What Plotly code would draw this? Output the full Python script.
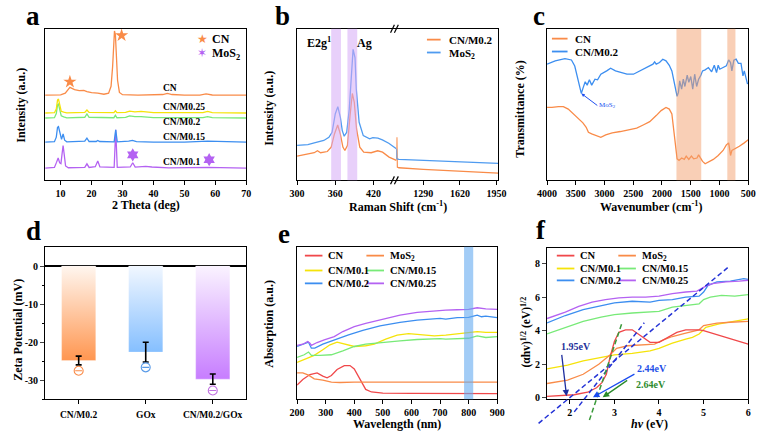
import plotly.graph_objects as go

W, H = 764, 435
SERIF = "Liberation Serif"

ORANGE = "#F98B48"
YELLOW = "#F5E30A"
GREEN = "#78EA78"
BLUE = "#3C8EF0"
PURPLE = "#B462F2"
RED = "#F0484A"

# ---------------- (a) XRD ----------------
a_cn_x = [5, 10, 11.5, 12.5, 13, 13.5, 14.5, 16, 17.5, 18.5, 20, 22, 24, 25.5, 26.3, 26.8, 27.1, 27.4, 27.7, 28.0, 28.4, 29, 30, 35, 40, 43, 44.5, 46, 50, 55, 57, 59, 65, 70]
a_cn_y = [56.2, 56.4, 57.5, 60.5, 61.3, 60.8, 59.8, 59.2, 59.3, 58.5, 57.8, 57.5, 56.8, 57.5, 62, 75, 90, 98.5, 96, 82, 66, 58, 56.5, 56.2, 56.2, 56.6, 57.3, 56.6, 56.2, 56.2, 57, 56.3, 56.2, 56.2]
a_m025_x = [5, 8, 8.6, 9.0, 9.3, 9.7, 10.2, 11, 12, 17.8, 18.5, 19.2, 22, 27.2, 27.7, 28.2, 31, 32.3, 34, 36, 40, 50, 56, 57.5, 59, 70]
a_m025_y = [44.4, 44.6, 47, 53, 53.6, 50, 45.5, 45, 44.5, 44.8, 46.4, 44.8, 44.6, 44.6, 45.9, 44.6, 44.8, 45.7, 45.2, 45.5, 44.6, 44.4, 44.6, 45.5, 44.6, 44.4]
a_m02_x = [5, 8, 8.6, 9.0, 9.3, 9.7, 10.2, 11, 12, 17.8, 18.5, 19.2, 22, 27.2, 27.7, 28.2, 31, 32.3, 34, 36, 40, 50, 56, 57.5, 59, 70]
a_m02_y = [41.1, 41.3, 44, 49.8, 50.3, 47, 42.5, 41.8, 41.2, 41.6, 43.8, 41.6, 41.4, 41.3, 42.9, 41.3, 41.5, 42.5, 42.0, 42.0, 41.3, 41.1, 41.3, 42.0, 41.3, 41.1]
a_m015_x = [5, 8, 8.6, 9.0, 9.3, 9.8, 10.3, 10.8, 11.3, 12, 17.8, 18.5, 19.2, 21.5, 22, 22.6, 27.3, 27.8, 28.3, 32, 33.2, 34.5, 40, 50, 57.5, 70]
a_m015_y = [25.2, 25.5, 28.5, 35, 35.4, 30, 27, 30.6, 26.5, 25.4, 25.8, 27.8, 25.6, 25.6, 26.3, 25.6, 25.4, 33.3, 25.4, 25.8, 26.3, 25.5, 25.2, 25.2, 25.8, 25.2]
a_m01_x = [5, 8, 8.7, 9.2, 9.7, 10.1, 10.5, 10.8, 11.1, 11.6, 12.5, 17.8, 18.5, 19.2, 21.2, 22, 22.7, 27.3, 27.8, 28.3, 32.5, 33.3, 34.1, 37.5, 39.5, 45, 57.5, 58.5, 70]
a_m01_y = [8.1, 8.5, 12, 14.7, 11.5, 11, 18, 23, 18, 9.5, 8.3, 8.5, 10.9, 8.5, 9, 12.7, 8.8, 8.5, 33.3, 8.5, 8.8, 11.6, 8.7, 9.2, 8.8, 8.2, 8.6, 8.6, 8.1]
a_cn_star_x = [13, 29.7]
a_cn_star_y = [65, 95.6]
a_mos2_star_x = [33.3, 58]
a_mos2_star_y = [16.8, 13.6]
a_labels = ["CN", "CN/M0.25", "CN/M0.2", "CN/M0.15", "CN/M0.1"]

# ---------------- (b) Raman ----------------
b_mos2_left_x = [300, 317, 327, 342, 350, 355, 360, 364, 368, 371, 374, 378, 382, 386, 388, 391, 393, 397.5, 404, 414, 419, 427, 434, 444, 452, 456]
b_mos2_left_y = [23.0, 23.6, 24.7, 26.3, 28.4, 31.7, 43.8, 48.6, 41.6, 32.8, 29.1, 31.7, 47.0, 75.5, 86.4, 81.0, 60.2, 38.3, 29.5, 27.4, 28.2, 27.8, 26.7, 24.5, 22.3, 20.8]
b_mos2_right_x = [1048, 1050, 1070, 1290, 1569, 1803, 1965]
b_mos2_right_y = [20.8, 14.2, 13.8, 13.1, 12.5, 11.8, 11.2]
b_cn02_left_x = [300, 317, 327, 332, 337, 347.5, 353.6, 358.7, 363.8, 367.9, 372, 375.1, 379.1, 383.2, 386.8, 389.9, 393.4, 398.5, 404.7, 416.4, 426.6, 434.3, 444.5, 456]
b_cn02_left_y = [16.0, 17.3, 18.2, 19.5, 18.2, 19.0, 21.9, 30.6, 36.5, 30.6, 21.9, 19.7, 23.0, 42.7, 57.3, 51.4, 33.9, 21.9, 18.6, 18.2, 19.5, 18.6, 15.3, 13.1]
b_cn02_right_x = [1048, 1051, 1055, 1070, 1290, 1569, 1803, 1965]
b_cn02_right_y = [13.1, 28.4, 8.8, 8.3, 7.2, 6.1, 5.5, 4.8]
b_bands = [(353.6, 368.9), (379.1, 394.5)]

# ---------------- (c) FTIR ----------------
c_cn02_x = [4000, 3858, 3688, 3575, 3518, 3473, 3427, 3404, 3370, 3336, 3302, 3263, 3223, 3166, 3121, 3064, 2962, 2894, 2809, 2724,
            2610, 2497, 2384, 2270, 2157, 2128, 2100, 2043, 1986, 1930, 1873, 1828, 1794, 1760, 1737, 1714, 1692, 1658, 1629, 1601,
            1561, 1533, 1499, 1465, 1431, 1397, 1363, 1329, 1294, 1249, 1192, 1136, 1090, 1051, 1022, 994, 937, 880, 840, 807,
            784, 750, 710, 671, 625, 591, 568, 540, 512]
c_cn02_y = [76.6, 78.8, 80.3, 79.4, 75.4, 68.9, 61.3, 57.3, 61.3, 65.0, 62.8, 66.3, 62.8, 66.7, 66.3, 70.0, 72.2, 74.0, 72.2, 71.1,
            70.0, 70.0, 72.2, 74.4, 76.6, 78.1, 76.6, 77.7, 79.9, 78.8, 75.9, 72.2, 65.6, 60.2, 55.4, 58.0, 65.6, 60.2, 66.7, 61.9,
            69.4, 64.6, 68.5, 60.2, 70.0, 61.9, 66.7, 68.9, 72.2, 72.9, 74.4, 71.6, 75.9, 71.1, 75.9, 73.3, 74.4, 75.5, 79.4, 77.7,
            72.2, 79.2, 79.9, 77.2, 77.2, 68.9, 72.2, 67.8, 63.5]
c_cn_x = [4000, 3915, 3801, 3716, 3631, 3546, 3461, 3376, 3319, 3280, 3223, 3121, 3064, 2979, 2866, 2724, 2554, 2440, 2327, 2213,
          2100, 2015, 1930, 1873, 1828, 1788, 1760, 1737, 1703, 1658, 1612, 1578, 1533, 1488, 1448, 1391, 1363, 1329, 1294, 1249,
          1192, 1107, 1022, 937, 880, 840, 823, 807, 784, 727, 654, 568, 500]
c_cn_y = [48.1, 48.1, 48.6, 48.6, 47.0, 43.8, 40.5, 37.9, 35.0, 31.7, 30.6, 29.1, 28.4, 30.0, 31.3, 32.2, 33.5, 34.4, 36.5, 38.7,
          42.7, 46.0, 48.1, 47.0, 43.8, 31.7, 20.8, 14.2, 13.1, 14.7, 13.8, 16.0, 13.8, 16.0, 14.2, 14.7, 16.8, 14.2, 12.5, 10.9,
          12.0, 13.8, 16.4, 19.7, 23.4, 24.7, 20.8, 16.4, 19.7, 20.8, 22.5, 24.7, 26.7]
c_bands = [(1748, 1317), (863, 722)]
c_mos2_mark = (3404, 57.3)

# ---------------- (d) Zeta potential ----------------
d_cats = ["CN/M0.2", "GOx", "CN/M0.2/GOx"]
d_vals = [-24.8, -22.6, -29.7]
d_errs = [1.15, 2.6, 1.35]
d_minus_y = [-27.5, -26.6, -32.7]
d_ticks = [0, -10, -20, -30]

# ---------------- (e) UV-vis ----------------
e_cn_x = [200, 220, 245, 270, 290, 305, 320, 340, 365, 385, 400, 420, 440, 460, 500, 600, 700, 900]
e_cn_y = [9.3, 13, 16.2, 17.3, 15.2, 14.1, 15.6, 19.5, 22.1, 22.1, 19.9, 13, 6.5, 4.8, 4.1, 3.9, 3.7, 3.7]
e_mos2_x = [200, 220, 240, 260, 290, 320, 350, 400, 500, 600, 700, 900]
e_mos2_y = [17.3, 17.3, 15.8, 13.4, 12.6, 11.3, 11, 11.3, 11.3, 11.3, 11.5, 11.3]
e_m01_x = [200, 230, 260, 290, 315, 340, 370, 400, 440, 470, 510, 550, 590, 630, 680, 720, 760, 800, 830, 860, 900]
e_m01_y = [24.2, 26.4, 28.8, 32.5, 35.7, 37.4, 36.1, 34.6, 35.1, 36.1, 39.4, 42, 43.1, 42.4, 41.6, 42, 42.9, 43.7, 44.4, 43.9, 43.9]
e_m015_x = [200, 225, 240, 250, 280, 320, 360, 400, 440, 500, 560, 620, 700, 720, 760, 800, 830, 860, 900]
e_m015_y = [27.5, 29.2, 31, 28.8, 28.8, 29.2, 31.8, 34.6, 36.1, 37.4, 38.3, 39.2, 39.8, 39.4, 39.8, 40, 41.6, 40.5, 41.1]
e_m02_x = [200, 225, 240, 250, 262, 290, 330, 380, 430, 490, 560, 620, 700, 720, 760, 800, 830, 845, 860, 900]
e_m02_y = [34.6, 36.1, 37.4, 33.5, 33.5, 36.1, 39, 42.2, 45.2, 48.1, 50.4, 51.9, 53, 52.6, 53.5, 53.7, 55.2, 54.1, 54.5, 53.5]
e_m025_x = [200, 220, 237, 245, 250, 270, 295, 330, 360, 400, 440, 500, 560, 620, 680, 720, 760, 800, 830, 860, 900]
e_m025_y = [35.3, 36.1, 37.9, 36.8, 35.3, 37.2, 39, 41.1, 44.4, 47.6, 49.8, 52.6, 55.2, 56.9, 58, 58.4, 58.7, 58.9, 60, 59.3, 58.9]
e_band = (784, 816)

# ---------------- (f) Tauc plot ----------------
f_cn_x = [1.49, 2.1, 2.4, 2.6, 2.72, 2.82, 2.9, 3.0, 3.1, 3.25, 3.4, 3.6, 3.8, 4.0, 4.2, 4.4, 4.6, 4.9, 5.0, 5.5, 6.0]
f_cn_y = [0.08, 0.18, 0.33, 0.6, 0.9, 1.4, 2.4, 3.35, 3.9, 4.05, 4.05, 3.7, 3.3, 3.3, 3.6, 3.9, 4.05, 4.05, 4.0, 3.6, 3.2]
f_mos2_x = [1.49, 1.95, 2.3, 2.65, 2.9, 3.05, 3.3, 3.6, 3.9, 4.1, 4.3, 4.6, 4.9, 5.0, 5.3, 5.6, 6.0]
f_mos2_y = [0.85, 1.05, 1.4, 2.0, 2.55, 2.95, 3.1, 3.15, 3.2, 3.45, 3.65, 3.85, 4.05, 4.3, 4.45, 4.5, 4.55]
f_m01_x = [1.49, 1.95, 2.3, 2.7, 3.0, 3.4, 3.8, 4.0, 4.3, 4.6, 4.75, 4.9, 5.05, 5.35, 5.6, 6.0]
f_m01_y = [1.72, 1.95, 2.2, 2.4, 2.55, 2.65, 2.8, 2.95, 3.25, 3.5, 3.6, 3.8, 4.2, 4.4, 4.5, 4.7]
f_m015_x = [1.49, 1.95, 2.3, 2.7, 3.0, 3.4, 3.7, 4.0, 4.3, 4.6, 4.9, 5.0, 5.15, 5.4, 5.7, 6.0]
f_m015_y = [3.8, 4.25, 4.55, 4.8, 4.95, 5.05, 5.1, 5.15, 5.4, 5.5, 5.6, 5.85, 6.0, 6.1, 6.05, 6.15]
f_m02_x = [1.49, 1.9, 2.3, 2.7, 3.0, 3.4, 3.8, 4.0, 4.3, 4.6, 4.9, 5.0, 5.1, 5.3, 5.6, 5.9, 6.0]
f_m02_y = [4.46, 4.9, 5.25, 5.5, 5.65, 5.75, 5.7, 5.8, 5.85, 6.0, 6.05, 6.3, 6.7, 6.9, 6.95, 7.1, 7.05]
f_m025_x = [1.49, 1.9, 2.2, 2.5, 2.8, 3.1, 3.4, 3.7, 4.0, 4.3, 4.6, 4.85, 4.95, 5.05, 5.2, 5.5, 5.8, 6.0]
f_m025_y = [4.72, 5.1, 5.45, 5.7, 5.85, 5.95, 6.0, 6.0, 6.05, 6.2, 6.3, 6.35, 6.5, 6.65, 6.8, 6.9, 6.95, 7.0]
f_tan1_x = [1.30, 5.54]
f_tan1_y = [-1.52, 7.75]
f_tan2_x = [2.10, 3.67]
f_tan2_y = [-0.84, 4.47]
f_tan3_x = [2.44, 3.18]
f_tan3_y = [-1.33, 4.53]
f_gap_labels = ["1.95eV", "2.44eV", "2.64eV"]

# ====================================================================
def xdom(l, r):
    return [l / W, r / W]


def ydom(t, b):
    return [1 - b / H, 1 - t / H]


def px(xp, yp):
    return xp / W, 1 - yp / H


TICKFONT = dict(family=SERIF, size=10, color="black", weight="bold")


def xax(dom, rng, anchor, **kw):
    d = dict(domain=dom, range=rng, anchor=anchor, showline=True, linecolor="black", linewidth=1.3,
             mirror=True, showgrid=False, zeroline=False, ticks="outside", ticklen=4, tickwidth=1.2,
             tickcolor="black", tickfont=TICKFONT)
    d.update(kw)
    return d


def yax(dom, rng, anchor, **kw):
    d = dict(domain=dom, range=rng, anchor=anchor, showline=True, linecolor="black", linewidth=1.3,
             mirror=True, showgrid=False, zeroline=False, ticks="", showticklabels=False)
    d.update(kw)
    return d


def line(x, y, color, xa, ya, width=1.3, dash=None):
    return go.Scatter(x=x, y=y, mode="lines", line=dict(color=color, width=width, dash=dash),
                      xaxis=xa, yaxis=ya, showlegend=False, hoverinfo="skip")


fig = go.Figure()
annotations = []
shapes = []


def text(t, xp, yp, size, color="black", xanchor="center", angle=0, bold=True, family=SERIF):
    x, y = px(xp, yp)
    annotations.append(dict(text=t, x=x, y=y, xref="paper", yref="paper", showarrow=False,
                            xanchor=xanchor, yanchor="middle", textangle=angle,
                            font=dict(family=family, size=size, color=color,
                                      weight="bold" if bold else "normal")))


def arrow(tail, tip, color, width=1.3):
    x, y = px(*tip)
    annotations.append(dict(text="", x=x, y=y, xref="paper", yref="paper", showarrow=True,
                            ax=tail[0] - tip[0], ay=tail[1] - tip[1], axref="pixel", ayref="pixel",
                            arrowhead=2, arrowsize=1, arrowwidth=width, arrowcolor=color,
                            standoff=0, startstandoff=0))


def legline(x0, x1, yp, color):
    shapes.append(dict(type="line", xref="paper", yref="paper", x0=x0 / W, x1=x1 / W,
                       y0=1 - yp / H, y1=1 - yp / H, line=dict(color=color, width=1.8)))


# ---------------- panel a ----------------
for xs, ys, col in [(a_m01_x, a_m01_y, PURPLE), (a_m015_x, a_m015_y, BLUE), (a_m02_x, a_m02_y, GREEN),
                    (a_m025_x, a_m025_y, YELLOW), (a_cn_x, a_cn_y, ORANGE)]:
    fig.add_trace(line(xs, ys, col, "x", "y"))
fig.add_trace(go.Scatter(x=a_cn_star_x, y=a_cn_star_y, mode="markers", xaxis="x", yaxis="y",
                         marker=dict(symbol="star", size=10, color=ORANGE), showlegend=False))
fig.add_trace(go.Scatter(x=a_mos2_star_x, y=a_mos2_star_y, mode="markers", xaxis="x", yaxis="y",
                         marker=dict(symbol="hexagram", size=10, color=PURPLE), showlegend=False))
for lab, yp in zip(a_labels, [89, 108, 123, 138, 164]):
    text(lab, 155, yp, 9.5, xanchor="left")
text("★", 197, 39, 12, ORANGE, family="DejaVu Sans")
text("✶", 197, 53, 12, PURPLE, family="DejaVu Sans")
text("CN", 205, 39, 12, xanchor="left")
text("MoS<sub>2</sub>", 205, 54, 12, xanchor="left")
text("2 Theta (deg)", 139, 207, 12)
text("Intensity (a.u.)", 11, 106, 12, angle=-90)

# ---------------- panel b ----------------
BRK = 395.7
fig.add_trace(line(b_cn02_left_x, b_cn02_left_y, ORANGE, "x2", "y2"))
fig.add_trace(line(b_mos2_left_x, b_mos2_left_y, "#4F9BF0", "x2", "y2"))
fig.add_trace(line(b_cn02_right_x, b_cn02_right_y, ORANGE, "x3", "y3"))
fig.add_trace(line(b_mos2_right_x, b_mos2_right_y, "#4F9BF0", "x3", "y3"))
for b0, b1 in b_bands:
    shapes.append(dict(type="rect", xref="x2", yref="y2 domain", x0=b0, x1=b1, y0=0, y1=1,
                       fillcolor="rgba(214,170,245,0.55)", line=dict(width=0), layer="above"))
for yp in (29, 182):
    for dx in (-4, 0):
        shapes.append(dict(type="line", xref="paper", yref="paper",
                           x0=(BRK + dx - 2) / W, x1=(BRK + dx + 2) / W,
                           y0=1 - (yp + 4) / H, y1=1 - (yp - 4) / H, line=dict(color="black", width=1.2)))
text("E2g<sup>1</sup>", 316, 43, 12)
text("Ag", 363, 43, 12)
legline(427, 441, 40, ORANGE)
legline(427, 441, 53, "#4F9BF0")
text("CN/M0.2", 448, 40, 11, xanchor="left")
text("MoS<sub>2</sub>", 448, 54, 11, xanchor="left")
text("Raman Shift (cm<sup>-1</sup>)", 397, 208, 12)
text("Intensity (a.u.)", 265, 109, 12, angle=-90)

# ---------------- panel c ----------------
fig.add_trace(line(c_cn_x, c_cn_y, ORANGE, "x4", "y4"))
fig.add_trace(line(c_cn02_x, c_cn02_y, BLUE, "x4", "y4"))
for b0, b1 in c_bands:
    shapes.append(dict(type="rect", xref="x4", yref="y4 domain", x0=b0, x1=b1, y0=0, y1=1,
                       fillcolor="rgba(244,160,110,0.5)", line=dict(width=0), layer="above"))
annotations.append(dict(text="MoS<sub>2</sub>", x=c_mos2_mark[0], y=c_mos2_mark[1], xref="x4", yref="y4",
                        showarrow=True, ax=16, ay=12, arrowhead=2, arrowsize=0.7, arrowwidth=1,
                        arrowcolor="#2050F0", xanchor="left",
                        font=dict(family=SERIF, size=7, color="#2050F0")))
legline(555, 571, 39, ORANGE)
legline(555, 571, 52, BLUE)
text("CN", 577, 39, 11, xanchor="left")
text("CN/M0.2", 577, 52, 11, xanchor="left")
text("Wavenumber (cm<sup>-1</sup>)", 656, 208, 12)
text("Transmittance (%)", 522, 110, 12, angle=-90)

# ---------------- panel d ----------------
d_bottom = ["#FF9650", "#85BFFF", "#C77DFF"]
d_top = ["#FFF6EF", "#F1F7FF", "#FAF3FF"]
d_mark = ["#F98B48", "#5A9BE8", "#C070E0"]
HALF = 0.255
for i, v in enumerate(d_vals):
    fig.add_trace(go.Scatter(x=[i - HALF, i + HALF, i + HALF, i - HALF, i - HALF], y=[0, 0, v, v, 0],
                             mode="lines", fill="toself", line=dict(width=0.5, color="rgba(255,255,255,0.6)"),
                             fillgradient=dict(type="vertical", colorscale=[[0, d_bottom[i]], [1, d_top[i]]]),
                             xaxis="x5", yaxis="y5", showlegend=False, hoverinfo="skip"))
fig.add_trace(go.Scatter(x=list(range(len(d_vals))), y=d_vals, mode="markers", xaxis="x5", yaxis="y5",
                         marker=dict(size=1, color="rgba(0,0,0,0)"), showlegend=False,
                         error_y=dict(type="data", array=d_errs, color="black", thickness=1.6, width=3)))
fig.add_trace(go.Scatter(x=list(range(len(d_vals))), y=d_minus_y, mode="markers", xaxis="x5", yaxis="y5",
                         marker=dict(symbol="circle-open", size=9, color=d_mark, line=dict(width=1.1)),
                         showlegend=False))
fig.add_trace(go.Scatter(x=list(range(len(d_vals))), y=d_minus_y, mode="markers", xaxis="x5", yaxis="y5",
                         marker=dict(symbol="line-ew", size=5, line=dict(width=1.1, color=d_mark)),
                         showlegend=False))
for i, cat in enumerate(d_cats):
    annotations.append(dict(text=cat, x=i, y=1 - 419 / H, xref="x5", yref="paper", showarrow=False,
                            xanchor="center", yanchor="middle",
                            font=dict(family=SERIF, size=9.5, color="black", weight="bold")))
text("Zeta Potential (mV)", 8, 333, 12, angle=-90)

# ---------------- panel e ----------------
for xs, ys, col in [(e_cn_x, e_cn_y, RED), (e_mos2_x, e_mos2_y, ORANGE), (e_m01_x, e_m01_y, YELLOW),
                    (e_m015_x, e_m015_y, GREEN), (e_m02_x, e_m02_y, BLUE), (e_m025_x, e_m025_y, PURPLE)]:
    fig.add_trace(line(xs, ys, col, "x6", "y6"))
shapes.append(dict(type="rect", xref="x6", yref="y6 domain", x0=e_band[0], x1=e_band[1], y0=0, y1=1,
                   fillcolor="rgba(100,170,240,0.6)", line=dict(width=0), layer="above"))
e_leg = [("CN", RED, 0, 258), ("MoS<sub>2</sub>", ORANGE, 1, 258), ("CN/M0.1", YELLOW, 0, 273),
         ("CN/M0.15", GREEN, 1, 273), ("CN/M0.2", BLUE, 0, 286), ("CN/M0.25", PURPLE, 1, 286)]
for lab, col, c, yp in e_leg:
    x0 = 302 if c == 0 else 365
    legline(x0, x0 + 18, yp, col)
    text(lab, x0 + 22, yp + (1 if "sub" in lab else 0), 10.5, xanchor="left")
text("Wavelength (nm)", 396, 428, 12)
text("Absorption (a.u.)", 265, 327, 12, angle=-90)

# ---------------- panel f ----------------
for xs, ys, col in [(f_m01_x, f_m01_y, YELLOW), (f_m015_x, f_m015_y, GREEN), (f_m02_x, f_m02_y, BLUE),
                    (f_m025_x, f_m025_y, PURPLE), (f_mos2_x, f_mos2_y, ORANGE), (f_cn_x, f_cn_y, RED)]:
    fig.add_trace(line(xs, ys, col, "x7", "y7"))
fig.add_trace(line(f_tan1_x, f_tan1_y, "#2433D6", "x8", "y8", width=1.5, dash="5px,3px"))
fig.add_trace(line(f_tan2_x, f_tan2_y, "#2433D6", "x8", "y8", width=1.5, dash="5px,3px"))
fig.add_trace(line(f_tan3_x, f_tan3_y, "#3A9A3A", "x8", "y8", width=1.5, dash="5px,3px"))
f_leg = [("CN", RED, 0, 258), ("MoS<sub>2</sub>", ORANGE, 1, 258), ("CN/M0.1", YELLOW, 0, 271),
         ("CN/M0.15", GREEN, 1, 271), ("CN/M0.2", BLUE, 0, 283), ("CN/M0.25", PURPLE, 1, 283)]
for lab, col, c, yp in f_leg:
    x0 = 560 if c == 0 else 623
    legline(x0, x0 + 18, yp, col)
    text(lab, x0 + 22, yp + (1 if "sub" in lab else 0), 10.5, xanchor="left")
arrow((565, 357), (570, 400), "#1F2F9F")
arrow((640, 377), (597, 401), "#1A4BF0")
arrow((633, 383), (607, 401), "#2A8A2A")
text(f_gap_labels[0], 580, 350, 10, "#23309A")
text(f_gap_labels[1], 657, 372, 10, "#1F4FE8")
text(f_gap_labels[2], 656, 388, 10, "#2E8B2E")
text("<i>hv</i> (eV)", 655, 428, 12)
text("(αhv)<sup>1/2</sup> (eV)<sup>1/2</sup>", 529, 335, 11.5, angle=-90)

# panel letters
for lab, xp, yp in [("a", 24, 16), ("b", 279, 16), ("c", 542, 16), ("d", 24, 233), ("e", 281, 236), ("f", 544, 232)]:
    text(lab, xp, yp, 27)

# ---------------- axes ----------------
F_X0, F_X1, F_Y0, F_Y1 = 1.49, 6.0, -0.09, 8.94
F_L, F_R, F_T, F_B = 550, 756, 250, 403
sx = (F_X1 - F_X0) / (F_R - F_L)
sy = (F_Y1 - F_Y0) / (F_B - F_T)
EXT_L, EXT_B = 530, 434
ext_x0 = F_X0 - (F_L - EXT_L) * sx
ext_y0 = F_Y0 - (EXT_B - F_B) * sy

fig.update_layout(
    width=W, height=H, margin=dict(l=0, r=0, t=0, b=0),
    paper_bgcolor="white", plot_bgcolor="rgba(0,0,0,0)", showlegend=False,
    font=dict(family=SERIF, color="black"),
    xaxis=xax(xdom(36, 242), [5, 70], "y", tickvals=[10, 20, 30, 40, 50, 60, 70]),
    yaxis=yax(ydom(29, 182), [0, 100], "x"),
    xaxis2=xax(xdom(294, BRK), [300, 456], "y2", tickvals=[300, 360, 420]),
    yaxis2=yax(ydom(29, 182), [0, 100], "x2", mirror=False),
    xaxis3=xax(xdom(BRK, 500), [1047, 1965], "y3", tickvals=[1290, 1620, 1950]),
    yaxis3=yax(ydom(29, 182), [0, 100], "x3", mirror=False, side="right"),
    xaxis4=xax(xdom(550, 756), [4000, 500], "y4", tickvals=[4000, 3500, 3000, 2500, 2000, 1500, 1000, 500]),
    yaxis4=yax(ydom(29, 182), [0, 100], "x4"),
    xaxis5=xax(xdom(36, 242), [-0.5, 2.5], "y5", tickvals=[0, 1, 2], showticklabels=False),
    yaxis5=yax(ydom(249, 403), [-35, 5.1], "x5", ticks="outside", ticklen=4, tickwidth=1.2, showticklabels=True,
               tickvals=d_ticks, ticktext=[str(t) for t in d_ticks], tickfont=TICKFONT,
               minor=dict(tickvals=[-5, -15, -25, -35], ticks="outside", ticklen=2, tickwidth=1, tickcolor="black"),
               zeroline=True, zerolinecolor="black", zerolinewidth=1.5),
    xaxis6=xax(xdom(294, 499), [200, 900], "y6", tickvals=[200, 300, 400, 500, 600, 700, 800, 900]),
    yaxis6=yax(ydom(249, 403), [0, 100], "x6"),
    xaxis7=xax(xdom(F_L, F_R), [F_X0, F_X1], "y7", tickvals=[2, 3, 4, 5, 6]),
    yaxis7=yax(ydom(F_T, F_B), [F_Y0, F_Y1], "x7", ticks="outside", ticklen=4, tickwidth=1.2,
               showticklabels=True, tickvals=[0, 2, 4, 6, 8], tickfont=TICKFONT),
    xaxis8=dict(domain=xdom(EXT_L, F_R), range=[ext_x0, F_X1], anchor="y8", visible=False),
    yaxis8=dict(domain=ydom(F_T, EXT_B), range=[ext_y0, F_Y1], anchor="x8", visible=False),
    annotations=annotations,
    shapes=shapes,
)

fig.write_html("out.html", config={"displayModeBar": False},
               post_script="document.body.style.margin='0';document.body.style.padding='0';")
